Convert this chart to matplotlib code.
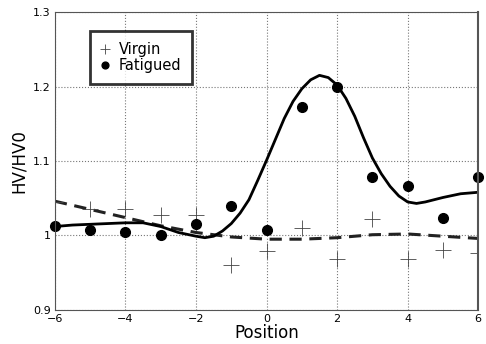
import matplotlib.pyplot as plt

# measured points
positions = [-6, -5, -4, -3, -2, -1, 0, 1, 2, 3, 4, 5, 6]
virgin = [1.045, 1.036, 1.035, 1.028, 1.028, 0.960, 0.979, 1.010, 0.969, 1.022, 0.969, 0.981, 0.976]
fatigued = [1.013, 1.007, 1.005, 1.000, 1.015, 1.040, 1.007, 1.172, 1.200, 1.078, 1.066, 1.023, 1.078]

# fitted curves
virgin_fit_x = [-6, -5, -4, -3, -2, -1, 0, 1, 2, 3, 4, 5, 6]
virgin_fit_y = [1.046, 1.035, 1.024, 1.013, 1.004, 0.998, 0.995, 0.995, 0.997, 1.001, 1.002, 0.999, 0.996]

fatigued_fit_x = [-6, -5.5, -5, -4.5, -4, -3.5, -3, -2.5, -2, -1.75, -1.5, -1.25, -1, -0.75,
                  -0.5, -0.25, 0, 0.25, 0.5, 0.75, 1.0, 1.25, 1.5, 1.75, 2.0, 2.25, 2.5, 2.75,
                  3.0, 3.25, 3.5, 3.75, 4.0, 4.25, 4.5, 5.0, 5.5, 6.0]
fatigued_fit_y = [1.012, 1.014, 1.015, 1.016, 1.017, 1.017, 1.012, 1.004, 0.999, 0.997, 0.999,
                  1.006, 1.016, 1.030, 1.048, 1.074, 1.101, 1.129, 1.157, 1.180, 1.197, 1.209,
                  1.215, 1.212, 1.202, 1.184, 1.160, 1.131, 1.104, 1.083, 1.066, 1.053, 1.045,
                  1.043, 1.045, 1.051, 1.056, 1.058]

fig = plt.figure(figsize=(4.86, 3.44), dpi=100)
ax = fig.add_axes([0.113, 0.099, 0.871, 0.866])

ax.plot(virgin_fit_x, virgin_fit_y, color='#222222', lw=2.2, dashes=(4, 2.5))
ax.plot(fatigued_fit_x, fatigued_fit_y, color='black', lw=2.0)
ax.plot(positions, virgin, '+', color='#444444', markersize=11, markeredgewidth=0.6,
        label='Virgin')
ax.plot(positions, fatigued, 'o', color='black', markersize=7, label='Fatigued',
        clip_on=False)

ax.set_xlim(-6, 6)
ax.set_ylim(0.9, 1.3)
ax.set_xticks([-6, -4, -2, 0, 2, 4, 6])
ax.set_yticks([0.9, 1.0, 1.1, 1.2, 1.3])
ax.set_yticklabels(['0.9', '1', '1.1', '1.2', '1.3'])
ax.tick_params(length=0, labelsize=8, pad=3)
ax.grid(True, color='#777777', linestyle=':', linewidth=0.8)
for s in ax.spines.values():
    s.set_color('#555555')
    s.set_linewidth(0.8)
ax.spines['right'].set_linewidth(1.5)

ax.set_xlabel('Position', fontsize=12, labelpad=0)
ax.set_ylabel('HV/HV0', fontsize=12, labelpad=4)

leg = ax.legend(loc='upper left', bbox_to_anchor=(0.083, 0.937), fontsize=10.5,
                frameon=True, fancybox=False, handlelength=0.6, handletextpad=0.6,
                borderpad=0.75, labelspacing=0.1, borderaxespad=0, markerscale=0.7)
leg.get_frame().set_edgecolor('black')
leg.get_frame().set_linewidth(2)

fig.savefig('out.png', dpi=100)
